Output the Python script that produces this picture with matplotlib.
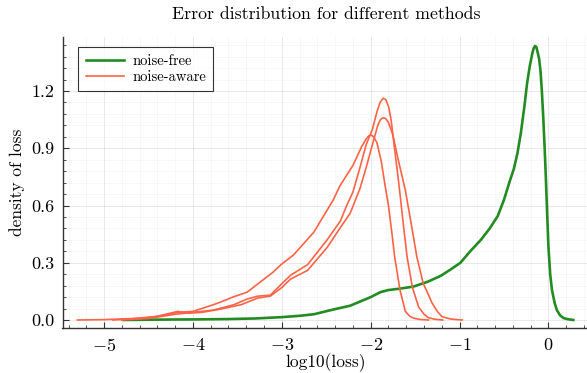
import matplotlib
matplotlib.use("Agg")
import matplotlib.pyplot as plt
from matplotlib.ticker import FormatStrFormatter, MultipleLocator

plt.rcParams["font.family"] = ["cmr10"]
plt.rcParams["mathtext.fontset"] = "cm"
plt.rcParams["axes.formatter.use_mathtext"] = True
plt.rcParams["axes.unicode_minus"] = True

TITLE = "Error distribution for different methods"
X_LABEL = "log10(loss)"
Y_LABEL = "density of loss"

# noise-free density (log10 loss)
free_x = [-4.78, -4.4, -4.0, -3.6, -3.3, -3.0, -2.8, -2.64, -2.42, -2.23, -2.0,
          -1.89, -1.8, -1.66, -1.52, -1.36, -1.21, -1.1, -0.99, -0.88, -0.76,
          -0.66, -0.57, -0.5, -0.43, -0.39, -0.35, -0.31, -0.27, -0.24, -0.21,
          -0.18, -0.165, -0.15, -0.135, -0.12, -0.105, -0.09, -0.075, -0.06,
          -0.045, -0.03, -0.015, 0.0, 0.02, 0.04, 0.07, 0.095, 0.13, 0.17,
          0.22, 0.28]
free_y = [0.0, 0.002, 0.003, 0.005, 0.008, 0.015, 0.022, 0.03, 0.055, 0.075, 0.12,
          0.146, 0.157, 0.165, 0.175, 0.2, 0.232, 0.265, 0.30, 0.36, 0.42,
          0.48, 0.545, 0.63, 0.735, 0.79, 0.87, 0.98, 1.12, 1.24, 1.33,
          1.40, 1.425, 1.436, 1.43, 1.40, 1.37, 1.31, 1.21, 1.08,
          0.93, 0.76, 0.57, 0.384, 0.24, 0.157, 0.09, 0.052, 0.025, 0.01,
          0.004, 0.0]

# noise-aware densities, three runs
aware_a_x = [-5.3, -5.0, -4.67, -4.4, -4.17, -4.0, -3.77, -3.69, -3.54, -3.39,
             -3.24, -3.1, -3.01, -2.87, -2.64, -2.42, -2.35, -2.2, -2.1, -2.05,
             -2.02, -2.0, -1.97, -1.93, -1.88, -1.84, -1.80, -1.76, -1.73,
             -1.67, -1.61, -1.56, -1.52, -1.45, -1.35]
aware_a_y = [0.0, 0.002, 0.008, 0.018, 0.04, 0.045, 0.08, 0.094, 0.122, 0.146,
             0.2, 0.25, 0.29, 0.34, 0.46, 0.63, 0.70, 0.81, 0.91, 0.95,
             0.965, 0.97, 0.962, 0.93, 0.83, 0.71, 0.60, 0.45, 0.33,
             0.157, 0.045, 0.02, 0.01, 0.003, 0.0]

aware_b_x = [-4.9, -4.6, -4.4, -4.17, -4.05, -3.9, -3.69, -3.46, -3.27, -3.13,
             -3.0, -2.9, -2.71, -2.49, -2.34, -2.23, -2.12, -2.05, -1.98, -1.92,
             -1.89, -1.86, -1.83, -1.80, -1.75, -1.70, -1.65, -1.61, -1.55,
             -1.48, -1.41, -1.31, -1.25, -1.20, -1.10, -0.97]
aware_b_y = [0.0, 0.008, 0.02, 0.045, 0.036, 0.04, 0.057, 0.08, 0.115, 0.125,
             0.17, 0.215, 0.26, 0.38, 0.485, 0.56, 0.69, 0.80, 0.92, 1.02,
             1.05, 1.06, 1.055, 1.035, 0.97, 0.86, 0.76, 0.68, 0.52,
             0.33, 0.194, 0.09, 0.045, 0.018, 0.005, 0.0]

aware_c_x = [-4.8, -4.5, -4.2, -4.0, -3.77, -3.54, -3.39, -3.27, -3.13, -3.0,
             -2.9, -2.71, -2.49, -2.34, -2.27, -2.2, -2.12, -2.05, -1.98, -1.93,
             -1.895, -1.86, -1.83, -1.80, -1.77, -1.74, -1.70, -1.67, -1.63,
             -1.59, -1.53, -1.46, -1.40, -1.35, -1.28, -1.19]
aware_c_y = [0.0, 0.008, 0.03, 0.04, 0.052, 0.08, 0.11, 0.125, 0.13, 0.19,
             0.235, 0.29, 0.42, 0.52, 0.60, 0.67, 0.80, 0.92, 1.0, 1.09,
             1.14, 1.162, 1.155, 1.12, 1.05, 0.93, 0.78, 0.66, 0.49,
             0.33, 0.17, 0.068, 0.03, 0.012, 0.004, 0.0]

FREE_COLOR = "#228b22"
AWARE_COLOR = "#ff6347"

fig = plt.figure(figsize=(5.87, 3.73), dpi=100)
axis = fig.add_axes([62.5 / 587, 1 - 328.3 / 373, 527.5 / 587, 291.3 / 373])

axis.plot(free_x, free_y, color=FREE_COLOR, lw=1.9, label="noise-free")
axis.plot(aware_a_x, aware_a_y, color=AWARE_COLOR, lw=1.2, label="noise-aware")
axis.plot(aware_b_x, aware_b_y, color=AWARE_COLOR, lw=1.2)
axis.plot(aware_c_x, aware_c_y, color=AWARE_COLOR, lw=1.2)

axis.set_xlim(-5.468, 0.468)
axis.set_ylim(-0.0435, 1.483)
axis.xaxis.set_major_locator(MultipleLocator(1))
axis.xaxis.set_minor_locator(MultipleLocator(0.2))
axis.yaxis.set_major_locator(MultipleLocator(0.3))
axis.yaxis.set_minor_locator(MultipleLocator(0.06))
axis.yaxis.set_major_formatter(FormatStrFormatter("%.1f"))

axis.grid(which="major", color="black", alpha=0.1, lw=0.6)
axis.grid(which="minor", color="black", alpha=0.04, lw=0.5)
axis.set_axisbelow(True)
for side in ["top", "right"]:
    axis.spines[side].set_visible(False)
for side in ["left", "bottom"]:
    axis.spines[side].set_color("#333333")
    axis.spines[side].set_linewidth(1.0)
axis.tick_params(which="major", direction="in", length=4, width=0.8,
                 labelsize=13, color="#333333", pad=6)
axis.tick_params(which="minor", direction="in", length=2, width=0.6,
                 color="#333333")

axis.set_title(TITLE, fontsize=12.8, pad=13)
axis.set_xlabel(X_LABEL, fontsize=12.5, labelpad=0)
axis.set_ylabel(Y_LABEL, fontsize=12.5, labelpad=4)

legend = axis.legend(loc="upper left", bbox_to_anchor=(0.03, 0.966),
                     fontsize=10.5, frameon=True, fancybox=False,
                     handlelength=2.6, handletextpad=0.6, borderpad=0.5,
                     labelspacing=0.15, borderaxespad=0)
legend.get_frame().set_edgecolor("black")
legend.get_frame().set_linewidth(0.8)

fig.savefig("out.png", dpi=100)
